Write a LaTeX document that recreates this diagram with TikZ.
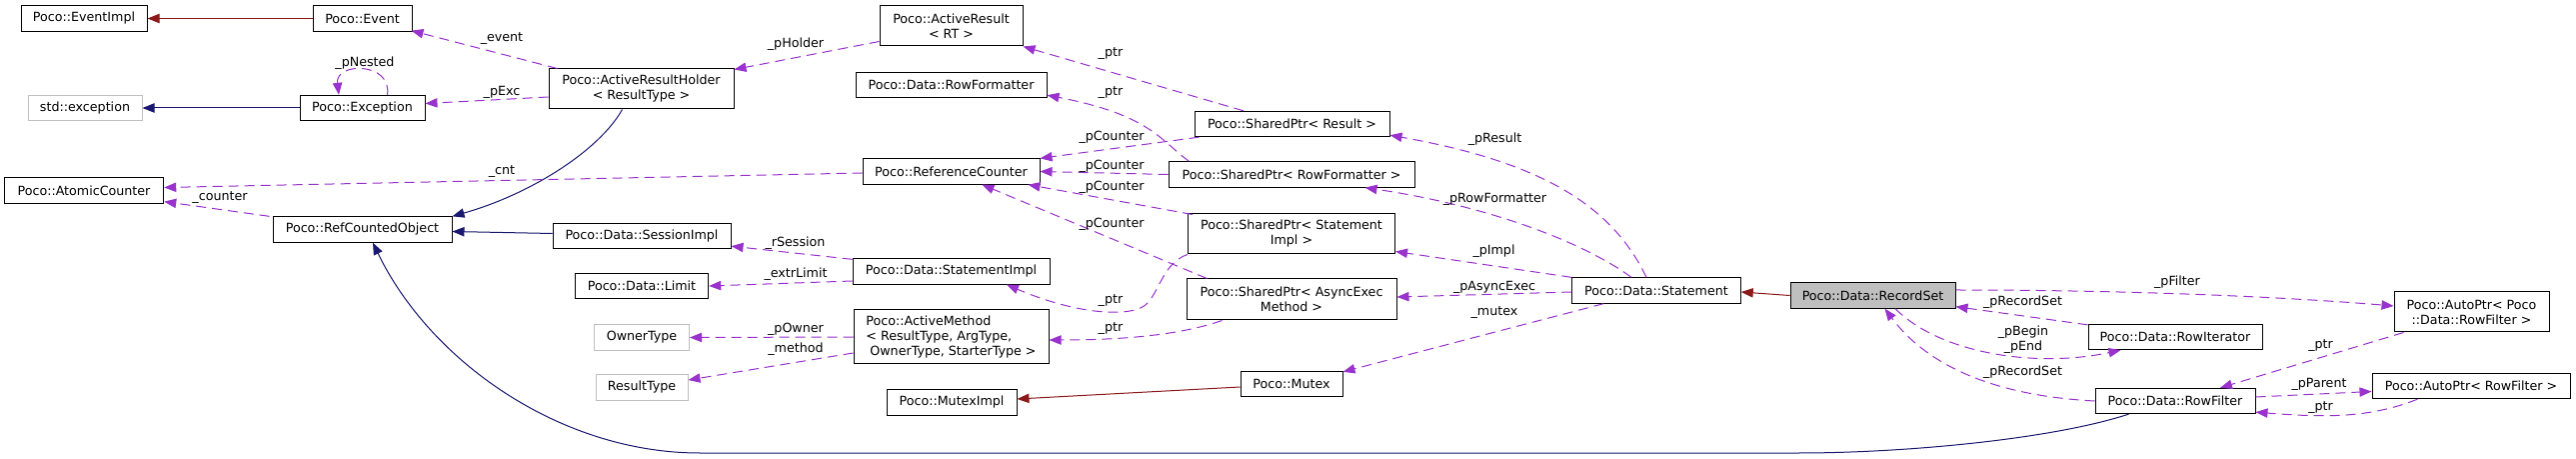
\documentclass[tikz,border=0pt]{standalone}
\usepackage{fontspec}
\setmainfont{DejaVu Sans}
\usetikzlibrary{arrows.meta,calc}
\definecolor{PubBlue}{HTML}{191970}
\definecolor{PrivRed}{HTML}{8B1A1A}
\definecolor{UsePurple}{HTML}{9A32CD}
\definecolor{ExtGray}{HTML}{BFBFBF}
\tikzset{
  klass/.style={
    draw=black, line width=0.75pt, fill=white, minimum height=19pt,
    inner sep=2pt, align=center, font=\fontsize{9.5}{11.25}\selectfont
  },
  extklass/.style={klass, draw=ExtGray},
  focus/.style={klass, fill=ExtGray},
  pubflow/.style={-{Triangle[length=9pt,width=7pt]}, line width=0.75pt, draw=PubBlue},
  privflow/.style={-{Triangle[length=9pt,width=7pt]}, line width=0.75pt, draw=PrivRed},
  useflow/.style={-{Triangle[length=9pt,width=7pt]}, line width=0.75pt, draw=UsePurple,
    dash pattern=on 7.5pt off 4.5pt},
  lbl/.style={inner sep=0pt, font=\fontsize{9.5}{11.25}\selectfont}
}
\begin{document}
\begin{tikzpicture}[x=0.75pt,y=-0.75pt]
  \path[fill=white,use as bounding box] (0,0) rectangle (2577,459);

  % classes
  \node[klass,minimum width=94.5pt] (eventimpl) at (84,18.5) {Poco::EventImpl};
  \node[klass,minimum width=74.25pt] (event) at (362.5,18.5) {Poco::Event};
  \node[extklass,minimum width=85.5pt] (stdexc) at (85,108) {std::exception};
  \node[klass,minimum width=93.75pt] (exception) at (362.5,108) {Poco::Exception};
  \node[klass,minimum width=138.75pt,minimum height=30pt] (holder) at (641.5,89)
    {Poco::ActiveResultHolder\\< ResultType >};
  \node[klass,minimum width=119.6pt] (atomic) at (84,190.5) {Poco::AtomicCounter};
  \node[klass,minimum width=134.25pt] (refobj) at (362.5,229.5) {Poco::RefCountedObject};
  \node[klass,minimum width=133.5pt] (session) at (642,236) {Poco::Data::SessionImpl};
  \node[klass,minimum width=100.1pt] (limit) at (642,286) {Poco::Data::Limit};
  \node[extklass,minimum width=71.25pt] (ownertype) at (642,337.5) {OwnerType};
  \node[extklass,minimum width=69pt] (resulttype) at (642,387.5) {ResultType};
  \node[klass,minimum width=107.25pt,minimum height=30pt] (result) at (951.5,26)
    {Poco::ActiveResult\\< RT >};
  \node[klass,minimum width=143.25pt] (rowfmt) at (951.5,85) {Poco::Data::RowFormatter};
  \node[klass,minimum width=132.75pt] (refcnt) at (951.5,171.5) {Poco::ReferenceCounter};
  \node[klass,minimum width=147.75pt] (stmtimpl) at (951.5,271.5) {Poco::Data::StatementImpl};
  \node[klass,minimum width=146.25pt,minimum height=40.5pt,align=left] (method) at (951.5,337)
    {Poco::ActiveMethod\\< ResultType, ArgType,\\\hspace{3pt}OwnerType, StarterType >};
  \node[klass,minimum width=97.5pt] (muteximpl) at (952,402.5) {Poco::MutexImpl};
  \node[klass,minimum width=146.25pt] (spresult) at (1292.5,124) {Poco::SharedPtr< Result >};
  \node[klass,minimum width=184.5pt] (sprowfmt) at (1292,174.5) {Poco::SharedPtr< RowFormatter >};
  \node[klass,minimum width=155.25pt,minimum height=30pt] (spstmtimpl) at (1292,234)
    {Poco::SharedPtr< Statement\\Impl >};
  \node[klass,minimum width=157.5pt,minimum height=30.75pt] (spasync) at (1292,299.5)
    {Poco::SharedPtr< AsyncExec\\Method >};
  \node[klass,minimum width=76.5pt] (mutex) at (1292,384) {Poco::Mutex};
  \node[klass,minimum width=126.4pt] (statement) at (1657,290.5) {Poco::Data::Statement};
  \node[focus,minimum width=123.75pt] (recordset) at (1873.5,295.5) {Poco::Data::RecordSet};
  \node[klass,minimum width=130.5pt] (rowiter) at (2176,337) {Poco::Data::RowIterator};
  \node[klass,minimum width=120pt] (rowfilter) at (2176,401) {Poco::Data::RowFilter};
  \node[klass,minimum width=116.25pt,minimum height=30pt] (filterptr) at (2472.5,312)
    {Poco::AutoPtr< Poco\\::Data::RowFilter >};
  \node[klass,minimum width=148.5pt] (parentptr) at (2472,386) {Poco::AutoPtr< RowFilter >};

  % inheritance
  \draw[privflow] (event.west) -- (eventimpl.east);
  \draw[pubflow] (exception.west) -- (stdexc.east);
  \draw[pubflow] ($(holder.south)+(-19,0)$) .. controls +(-23,41) and +(78,-22) .. (refobj.north east);
  \draw[pubflow] ($(session.west)+(0,-2.5)$) -- ($(refobj.east)+(0,2)$);
  \draw[pubflow] ($(rowfilter.south)+(-46.5,0)$) .. controls +(-80,26) and +(100,0) .. (1800,453)
    -- (700,453) .. controls +(-140,0) and +(57,118) .. ($(refobj.south)+(10.5,0)$);
  \draw[privflow] ($(mutex.west)+(0,3)$) -- ($(muteximpl.east)+(0,-3.5)$);
  \draw[privflow] (recordset.west) -- ($(statement.east)+(0,1.5)$);

  % members
  \draw[useflow] ($(exception.north)+(25,0)$) .. controls +(5,-33) and +(-4,-33) .. ($(exception.north)+(-23.5,0)$);
  \draw[useflow] ($(holder.west)+(0,8)$) -- ($(exception.east)+(0,-4.5)$);
  \draw[useflow] ($(holder.north west)+(9,0)$) -- ($(event.south east)+(-1,-1)$);
  \draw[useflow] ($(refcnt.west)+(0,1.5)$) -- ($(atomic.east)+(0,-3)$);
  \draw[useflow] ($(refobj.north west)+(-3,0)$) -- ($(atomic.south east)+(0,-2)$);
  \draw[useflow] ($(result.west)+(0,15.5)$) -- ($(holder.north east)+(0,1)$);
  \draw[useflow] ($(spresult.north west)+(49.5,0)$) -- (result.south east);
  \draw[useflow] ($(sprowfmt.north west)+(21,0)$) .. controls +(-30,-22) and +(103,20) .. ($(rowfmt.south east)+(0,-3)$);
  \draw[useflow] ($(spresult.south west)+(5,0)$) -- (refcnt.north east);
  \draw[useflow] (sprowfmt.west) -- (refcnt.east);
  \draw[useflow] ($(spstmtimpl.north west)+(5,1)$) -- ($(refcnt.south east)+(-12,0)$);
  \draw[useflow] ($(spasync.north west)+(21,0)$) -- ($(refcnt.south)+(31,0)$);
  \draw[useflow] (spstmtimpl.south west) .. controls +(-23.5,8) and +(12,-13) .. (1148,303)
    .. controls +(-13,15) and +(73,31) .. ($(stmtimpl.south)+(55.5,0)$);
  \draw[useflow] ($(spasync.south west)+(36,0)$) .. controls +(-43,15) and +(71,0) .. ($(method.east)+(0,3)$);
  \draw[useflow] ($(stmtimpl.north west)+(0,1)$) -- ($(session.south east)+(0,-3)$);
  \draw[useflow] ($(stmtimpl.west)+(0,9.5)$) -- (limit.east);
  \draw[useflow] (method.west) -- (ownertype.east);
  \draw[useflow] ($(method.west)+(0,16)$) -- ($(resulttype.east)+(0,-7.5)$);
  \draw[useflow] ($(statement.north)+(-10,0)$) .. controls +(-37,-78) and +(140,25) .. ($(spresult.south east)+(0,-2)$);
  \draw[useflow] ($(statement.north)+(-25,0)$) .. controls +(-52,-38) and +(116,17) .. ($(sprowfmt.south east)+(-50,0)$);
  \draw[useflow] (statement.north west) -- ($(spstmtimpl.south east)+(0,-3)$);
  \draw[useflow] ($(statement.west)+(0,1.5)$) -- ($(spasync.east)+(0,-2.5)$);
  \draw[useflow] ($(statement.south west)+(32,0)$) -- ($(mutex.north east)+(0,1)$);
  \draw[useflow] ($(recordset.east)+(0,-5.5)$) .. controls +(190,0) and +(-95,-8) .. ($(filterptr.west)+(0,-6)$);
  \draw[useflow] ($(rowiter.north west)+(0,1)$) -- ($(recordset.south east)+(0,-2)$);
  \draw[useflow] ($(recordset.south)+(22.5,0)$) .. controls +(45,45) and +(-85,18) .. ($(rowiter.south west)+(33,0)$);
  \draw[useflow] (rowfilter.west) .. controls +(-95,-5) and +(45,60) .. ($(recordset.south)+(12,0)$);
  \draw[useflow] ($(filterptr.south west)+(10,0)$) -- ($(rowfilter.north)+(45,0)$);
  \draw[useflow] ($(rowfilter.east)+(0,-4)$) -- ($(parentptr.west)+(0,5.5)$);
  \draw[useflow] ($(parentptr.south west)+(46,0)$) .. controls +(-50,20) and +(65,5) .. ($(rowfilter.south east)+(0,-2)$);

  % member names
  \node[lbl] (l-pnested) at (365,63) {\_pNested};
  \node[lbl] (l-event) at (502,39) {\_event};
  \node[lbl] (l-pexc) at (502,92) {\_pExc};
  \node[lbl] (l-cnt) at (502,172) {\_cnt};
  \node[lbl] (l-counter) at (220,198) {\_counter};
  \node[lbl] (l-pholder) at (796,44.5) {\_pHolder};
  \node[lbl] (l-ptr-result) at (1111,53.5) {\_ptr};
  \node[lbl] (l-ptr-rowfmt) at (1111,92.5) {\_ptr};
  \node[lbl] (l-pcounter-a) at (1112,137.5) {\_pCounter};
  \node[lbl] (l-pcounter-b) at (1112,166) {\_pCounter};
  \node[lbl] (l-pcounter-c) at (1112,187.5) {\_pCounter};
  \node[lbl] (l-pcounter-d) at (1112,224) {\_pCounter};
  \node[lbl] (l-rsession) at (795.5,243) {\_rSession};
  \node[lbl] (l-extrlimit) at (796,274) {\_extrLimit};
  \node[lbl] (l-powner) at (796,329) {\_pOwner};
  \node[lbl] (l-method) at (796,349) {\_method};
  \node[lbl] (l-ptr-stmtimpl) at (1111,300.5) {\_ptr};
  \node[lbl] (l-ptr-method) at (1111,329) {\_ptr};
  \node[lbl] (l-presult) at (1495.5,139) {\_pResult};
  \node[lbl] (l-prowfmt) at (1495.5,199) {\_pRowFormatter};
  \node[lbl] (l-pimpl) at (1494.5,251.5) {\_pImpl};
  \node[lbl] (l-pasync) at (1495,287.5) {\_pAsyncExec};
  \node[lbl] (l-mutex) at (1495,313) {\_mutex};
  \node[lbl] (l-pfilter) at (2178,282.5) {\_pFilter};
  \node[lbl] (l-precordset-a) at (2023.5,302.5) {\_pRecordSet};
  \node[lbl,align=center] (l-pbegin) at (2024,339.5) {\_pBegin\\\_pEnd};
  \node[lbl] (l-precordset-b) at (2023.5,372.5) {\_pRecordSet};
  \node[lbl] (l-ptr-filter) at (2321.5,346) {\_ptr};
  \node[lbl] (l-pparent) at (2320,384) {\_pParent};
  \node[lbl] (l-ptr-parent) at (2321.5,407.5) {\_ptr};
\end{tikzpicture}
\end{document}
